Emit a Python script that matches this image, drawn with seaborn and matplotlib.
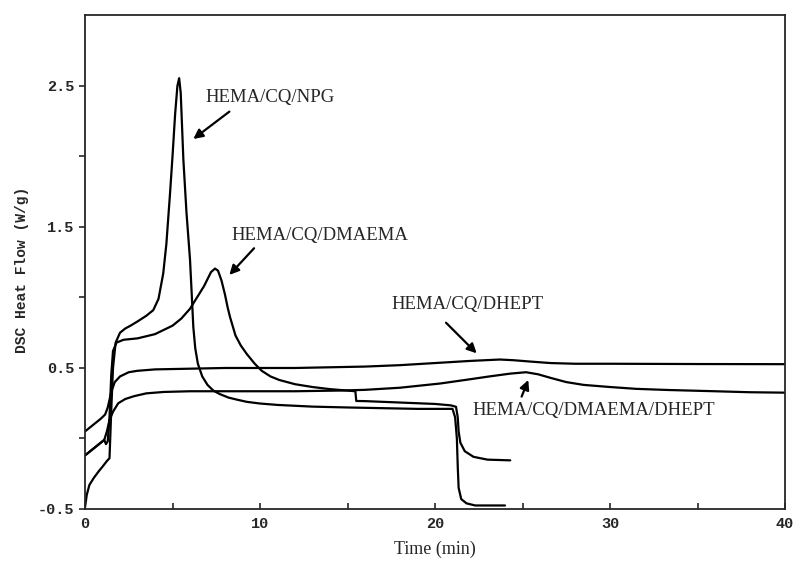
import matplotlib
matplotlib.use("Agg")
import matplotlib.pyplot as plt
import seaborn as sns
import numpy as np
import pandas as pd

# ---- data ----
npg_t = [0, 0.1, 0.25, 0.5, 0.8, 1.0, 1.25, 1.4, 1.5, 1.6, 1.75, 2.0, 2.3, 2.6, 3.0, 3.5,
         3.9, 4.2, 4.47, 4.65, 4.86, 5.0, 5.15, 5.28, 5.38, 5.47, 5.55, 5.62, 5.8, 6.0,
         6.1, 6.19, 6.3, 6.45, 6.7, 7.0, 7.33, 7.7, 8.2, 8.7, 9.24, 10, 11, 13, 15, 17,
         19, 21.0, 21.15, 21.25, 21.3, 21.35, 21.5, 21.8, 22.3, 24.0]
npg_q = [-0.49, -0.40, -0.33, -0.28, -0.23, -0.20, -0.16, -0.14, 0.2, 0.5, 0.68, 0.75,
         0.78, 0.80, 0.83, 0.87, 0.91, 0.99, 1.17, 1.38, 1.74, 2.0, 2.3, 2.5, 2.555, 2.45,
         2.2, 1.98, 1.6, 1.27, 1.02, 0.79, 0.64, 0.53, 0.44, 0.38, 0.34, 0.315, 0.29,
         0.275, 0.26, 0.248, 0.238, 0.226, 0.22, 0.215, 0.21, 0.21, 0.15, 0.0, -0.2,
         -0.35, -0.43, -0.46, -0.475, -0.475]

dmaema_t = [0, 0.3, 0.6, 0.9, 1.1, 1.2, 1.3, 1.4, 1.5, 1.6, 1.8, 2.2, 3.0, 4.0, 4.5, 5.0,
            5.5, 6.0, 6.5, 6.8, 7.0, 7.2, 7.43, 7.6, 7.8, 8.0, 8.15, 8.29, 8.6, 8.9, 9.24,
            9.7, 10.1, 10.6, 11.1, 12, 13, 14, 15.45, 15.5, 16, 18, 20, 20.9, 21.2, 21.3,
            21.35, 21.45, 21.7, 22.2, 23, 24.3]
dmaema_q = [-0.12, -0.09, -0.06, -0.03, -0.01, -0.04, -0.02, 0.15, 0.45, 0.62, 0.68, 0.70,
            0.71, 0.74, 0.77, 0.80, 0.85, 0.92, 1.02, 1.08, 1.13, 1.18, 1.205, 1.19, 1.12,
            1.02, 0.93, 0.86, 0.73, 0.66, 0.60, 0.53, 0.48, 0.44, 0.415, 0.385, 0.365,
            0.35, 0.335, 0.266, 0.265, 0.255, 0.245, 0.235, 0.225, 0.15, 0.05, -0.03,
            -0.09, -0.13, -0.15, -0.155]

dhept_t = [0, 0.3, 0.6, 0.9, 1.15, 1.3, 1.5, 1.7, 2.0, 2.5, 3.0, 4.0, 6, 8, 10, 12, 14, 16,
           18, 20, 22, 23.7, 24.5, 25.5, 26.6, 28, 30, 35, 40]
dhept_q = [0.05, 0.08, 0.11, 0.14, 0.17, 0.22, 0.33, 0.40, 0.44, 0.47, 0.48, 0.49, 0.495,
           0.50, 0.50, 0.50, 0.505, 0.51, 0.52, 0.535, 0.55, 0.56, 0.555, 0.545, 0.535,
           0.53, 0.53, 0.528, 0.527]

dd_t = [0, 0.3, 0.6, 0.9, 1.1, 1.25, 1.4, 1.6, 1.9, 2.3, 2.8, 3.5, 4.5, 6, 8, 10, 12, 14.6,
        16, 18, 20.3, 22, 23.1, 24.3, 25.2, 25.9, 26.6, 27.5, 28.5, 30, 31.5, 33.3, 36, 38, 40]
dd_q = [-0.12, -0.09, -0.06, -0.03, -0.01, 0.05, 0.13, 0.19, 0.25, 0.28, 0.30, 0.32, 0.33,
        0.335, 0.335, 0.335, 0.335, 0.34, 0.345, 0.36, 0.39, 0.42, 0.44, 0.46, 0.47, 0.455,
        0.43, 0.40, 0.38, 0.365, 0.352, 0.344, 0.335, 0.328, 0.325]

labels = ["HEMA/CQ/NPG", "HEMA/CQ/DMAEMA", "HEMA/CQ/DHEPT", "HEMA/CQ/DMAEMA/DHEPT"]
x_ticks = [0, 10, 20, 30, 40]
y_ticks = [-0.5, 0.5, 1.5, 2.5]
y_ticklabels = ["-0.5", "0.5", "1.5", "2.5"]

series = [(npg_t, npg_q), (dmaema_t, dmaema_q), (dhept_t, dhept_q), (dd_t, dd_q)]

sns.set_style("ticks")
fig = plt.figure(figsize=(8, 5.69), dpi=100)
ax = fig.add_axes([0.10625, 0.10545, 0.875, 0.8674])

for (t, q), lab in zip(series, labels):
    df = pd.DataFrame({"t": t, "q": q})
    sns.lineplot(data=df, x="t", y="q", sort=False, estimator=None, color="black",
                 lw=1.6, ax=ax, legend=False)

ax.set_xlim(0, 40)
ax.set_ylim(-0.5, 3.0)
ax.set_xticks(x_ticks)
ax.set_xticks([5, 15, 25, 35], minor=True)
ax.set_yticks(y_ticks)
ax.set_yticks([0, 1, 2], minor=True)
ax.set_yticklabels(y_ticklabels)
ax.set_xticklabels([str(v) for v in x_ticks])

for lbl in ax.get_xticklabels() + ax.get_yticklabels():
    lbl.set_fontfamily("Liberation Mono")
    lbl.set_fontweight("bold")
    lbl.set_fontsize(11)

ax.tick_params(axis="y", which="both", direction="out", length=4, width=1.2)
ax.tick_params(axis="x", which="both", direction="in", length=4, width=1.2, pad=6)
for s in ax.spines.values():
    s.set_visible(True)
    s.set_linewidth(1.3)

ax.set_xlabel("Time (min)", fontfamily="Liberation Serif", fontsize=13, labelpad=7)
ax.set_ylabel("DSC Heat Flow (W/g)", fontfamily="Liberation Mono", fontweight="bold",
              fontsize=10.5)
ax.yaxis.set_label_coords(-0.08, 0.484)

text_pos = [(6.86, 2.42), (8.38, 1.443), (17.53, 0.947), (22.15, 0.202)]
arrow_tail = [(8.25, 2.318), (9.66, 1.349), (20.63, 0.821), (24.95, 0.297)]
arrow_head = [(6.19, 2.124), (8.25, 1.160), (22.38, 0.604), (25.33, 0.415)]

for lab, tp, tl, hd in zip(labels, text_pos, arrow_tail, arrow_head):
    ax.text(tp[0], tp[1], lab, ha="left", va="center", fontfamily="Liberation Serif",
            fontsize=13.5)
    ax.annotate("", xy=hd, xytext=tl,
                arrowprops=dict(arrowstyle="-|>", color="black", lw=1.6,
                                mutation_scale=14, shrinkA=0, shrinkB=0))

fig.savefig("out.png", dpi=100)
